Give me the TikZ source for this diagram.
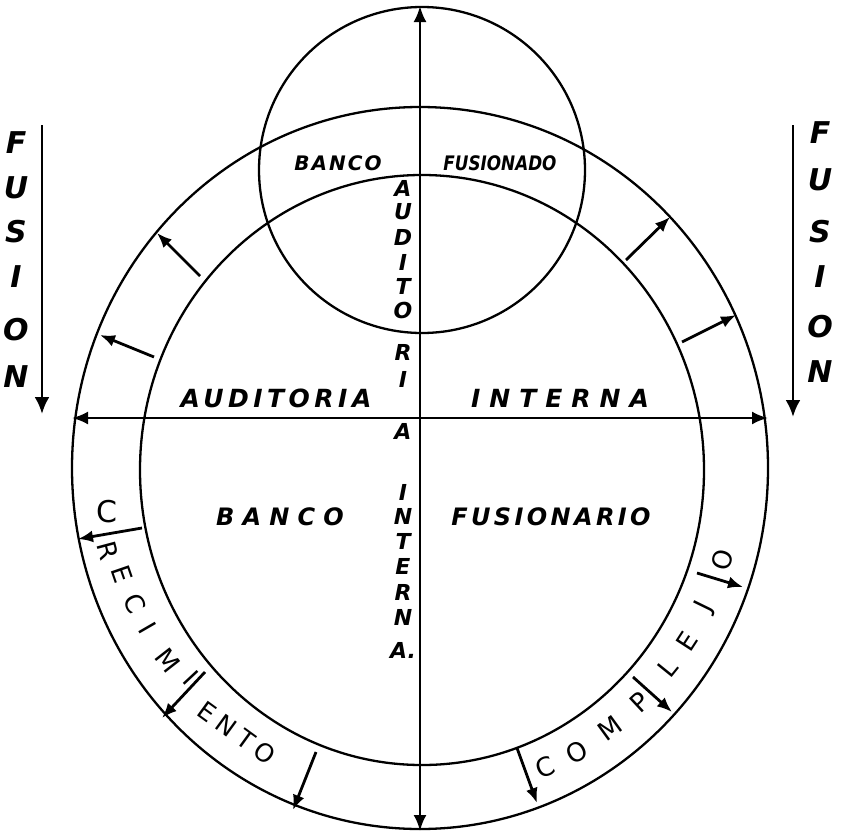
\documentclass[tikz,border=0pt]{standalone}
\usepackage{fontspec}
\usetikzlibrary{arrows.meta}
\newfontfamily\handfont{DejaVu Sans}
\newfontfamily\ringfont{DejaVu Sans}
\tikzset{
  ringline/.style={line width=2.3pt},
  axisarrow/.style={line width=2.6pt,{Latex[length=16pt,width=13pt]}-{Latex[length=16pt,width=13pt]}},
  fusarrow/.style={line width=2.8pt,-{Latex[length=17pt,width=15pt]}},
  radial/.style={line width=2.8pt,-{Latex[length=15pt,width=12pt]}},
  lbl/.style={inner sep=0pt,font=\handfont\bfseries\itshape\fontsize{25}{25}\selectfont},
  toplbl/.style={inner sep=0pt,font=\handfont\bfseries\itshape\fontsize{20}{20}\selectfont},
  vlet/.style={inner sep=0pt,font=\handfont\bfseries\itshape\fontsize{22}{22}\selectfont},
  sidelet/.style={inner sep=0pt,font=\handfont\bfseries\itshape\fontsize{30}{30}\selectfont},
  rlet/.style={inner sep=0pt,font=\ringfont\fontsize{26}{26}\selectfont},
}
\begin{document}
\begin{tikzpicture}[x=1pt,y=-1pt]
\useasboundingbox (0,0) rectangle (848,835);
% circles
\coordinate (ctr) at (420,468);
\draw[ringline] (ctr) ellipse [x radius=348, y radius=361];
\draw[ringline] (422,470) ellipse [x radius=282, y radius=295];
\draw[ringline] (422,170) circle [radius=163];
% axes
\coordinate (vtop) at (420,6);
\coordinate (vbot) at (420,831);
\coordinate (hleft) at (72,418);
\coordinate (hright) at (768,418);
\draw[axisarrow] (vtop) -- (vbot);
\draw[axisarrow] (hleft) -- (hright);
% fusion arrows
\coordinate (fl1) at (42,125); \coordinate (fl2) at (42,414);
\coordinate (fr1) at (793,125); \coordinate (fr2) at (793,417);
\draw[fusarrow] (fl1) -- (fl2);
\draw[fusarrow] (fr1) -- (fr2);
\foreach \l/\y [count=\i] in {F/143,U/188,S/232,I/277,O/330,N/377}
  \node[sidelet] (fsl\i) at (16,\y) {\l};
\foreach \l/\y [count=\i] in {F/133,U/180,S/232,I/277,O/327,N/372}
  \node[sidelet] (fsr\i) at (820,\y) {\l};
% radial arrows
\foreach \ax/\ay/\bx/\by [count=\i] in {200/276/157/233, 154/357/100/335, 626/260/670/217, 682/342/736/315, 142/528/78/539, 205/672/162/718, 316/752/293/810, 517/748/537/803, 633/677/672/712, 697/573/743/587}{
  \coordinate (ra\i) at (\ax,\ay);
  \coordinate (rb\i) at (\bx,\by);
  \draw[radial] (ra\i) -- (rb\i);
}
% labels
\node[toplbl,font=\handfont\bfseries\itshape\fontsize{20}{20}\selectfont\addfontfeature{LetterSpace=10}] (topbanco) at (338,163) {BANCO};
\node[toplbl,xscale=0.84] (topfus) at (500,163) {FUSIONADO};
\node[lbl,font=\handfont\bfseries\itshape\fontsize{25}{25}\selectfont\addfontfeature{LetterSpace=18}] (haud) at (276,398) {AUDITORIA};
\node[lbl,font=\handfont\bfseries\itshape\fontsize{25}{25}\selectfont\addfontfeature{LetterSpace=36}] (hint) at (560,398) {INTERNA};
\node[lbl,font=\handfont\bfseries\itshape\fontsize{24}{24}\selectfont\addfontfeature{LetterSpace=34}] (lbanco) at (280,517) {BANCO};
\node[lbl,font=\handfont\bfseries\itshape\fontsize{24}{24}\selectfont\addfontfeature{LetterSpace=14}] (lfus) at (551,517) {FUSIONARIO};
% vertical text
\foreach \l/\y [count=\i] in {A/188,U/212,D/237,I/262,T/286,O/310,R/352,I/379,A/431,I/492,N/516,T/541,E/566,R/592,N/617,A./650}
  \node[vlet] (vl\i) at (403,\y) {\l};
% ring text CRECIMIENTO
\node[rlet,font=\ringfont\fontsize{30}{30}\selectfont] (cr0) at (107,512) {C};
\foreach \l/\x/\y/\r [count=\i] in {R/108/551/-75, E/122/574/-71, C/135/604/-64, I/148/628/-60, M/168/660/-52}
  \node[rlet,rotate=\r] (cr\i) at (\x,\y) {\l};
\node[rlet,rotate=-47] (cri) at (191,678) {I};
\node[rlet,rotate=-36,font=\ringfont\fontsize{25}{25}\selectfont\addfontfeature{LetterSpace=26}] (cento) at (237,733) {ENTO};
% ring text COMPLEJO
\foreach \l/\x/\y/\r [count=\i] in {C/545/767/23, O/577/752/29, M/610/728/36, P/640/702/43, L/668/668/51, E/687/641/57, J/705/607/64, O/722/560/73}
  \node[rlet,rotate=\r] (cp\i) at (\x,\y) {\l};
\end{tikzpicture}
\end{document}
